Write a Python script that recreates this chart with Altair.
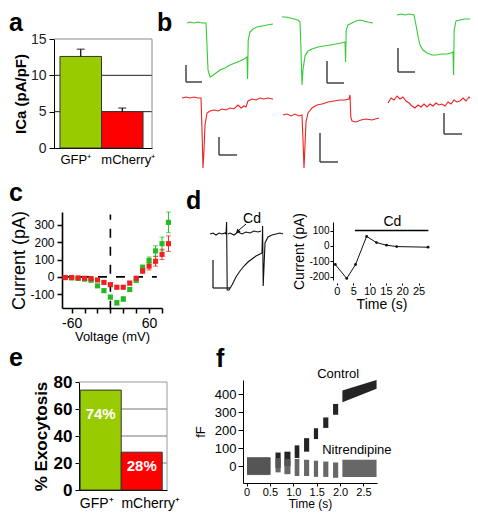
import altair as alt
import pandas as pd

# ---------------------------------------------------------------- data
A_GROUPS = ["GFP⁺", "mCherry⁺"]
A_ICA = [12.6, 5.0]
A_ERR = [1.0, 0.5]
A_GRID = [5, 10]

B_G1_T = [187, 190, 194, 198, 202, 206, 207, 208, 210, 212, 216, 220, 225, 230, 235, 240, 244, 247, 247.6, 248.2, 250, 253, 257, 262, 267, 273]
B_G1_I = [23, 22, 23, 22, 23, 23, 45, 70, 77, 76, 73, 70, 68, 65, 63, 61, 59, 57, 79, 40, 32, 29, 27, 26, 25, 24]
B_R1_T = [182, 186, 190, 194, 198, 201, 202, 203, 204, 205, 207, 210, 214, 218, 222, 226, 230, 234, 238, 241, 244, 246, 248, 252, 256, 260, 264, 268, 273]
B_R1_I = [98, 97, 98, 97, 98, 98, 130, 168, 150, 125, 113, 111, 110, 111, 109, 110, 108, 109, 105, 108, 106, 107, 101, 99, 100, 98, 99, 98, 99]
B_G2_T = [282, 286, 290, 294, 298, 300, 301, 302, 303, 305, 308, 312, 318, 324, 330, 336, 341, 345, 345.6, 346.2, 348, 352, 356, 360, 364, 368, 373]
B_G2_I = [17, 17, 18, 19, 20, 22, 50, 85, 70, 56, 51, 49, 47, 46, 45, 44, 43, 42, 62, 30, 25, 23, 21, 20, 21, 22, 23]
B_R2_T = [283, 287, 291, 295, 299, 302, 303, 304, 305, 306, 308, 312, 317, 322, 328, 334, 340, 345, 349, 350, 350.8, 352, 356, 361, 366, 372, 379]
B_R2_I = [115, 114, 116, 114, 116, 115, 140, 168, 145, 122, 113, 108, 105, 104, 102, 101, 100, 100, 99, 95, 117, 121, 122, 120, 119, 120, 118]
B_G3_T = [397, 401, 405, 409, 414, 416, 418, 420, 423, 427, 432, 437, 442, 447, 451, 453, 453.6, 454.2, 456, 460, 465, 470, 474, 478]
B_G3_I = [15, 14, 15, 14, 15, 25, 36, 45, 50, 53, 55, 55, 54, 54, 53, 52, 75, 30, 21, 20, 19, 19, 18, 18]
B_R3_T = [388, 391, 394, 397, 400, 403, 406, 409, 412, 415, 418, 421, 424, 427, 430, 433, 436, 439, 442, 445, 448, 451, 454, 457, 460, 463, 466, 469, 472, 475, 478]
B_R3_I = [103, 98, 100, 96, 99, 97, 101, 103, 106, 108, 105, 107, 104, 107, 104, 106, 103, 105, 104, 106, 102, 104, 100, 102, 101, 98, 101, 97, 100, 98, 103]
B_SB_X = [186, 219, 327, 320, 398, 444]
B_SB_TOP = [65, 137, 61, 133, 48, 113]
B_SB_BOT = [82, 155, 83, 162, 72, 134]
B_SB_END = [202, 237, 344, 338, 415, 462]

C_VOLT = [-70, -60, -50, -40, -30, -20, -10, 0, 10, 20, 30, 40, 50, 60, 70, 80, 90]
C_GFP = [-4, -6, -9, -13, -20, -52, -80, -117, -150, -128, -73, -20, 54, 95, 150, 192, 315]
C_GFP_ERR = [4, 4, 5, 6, 7, 8, 10, 10, 13, 13, 12, 12, 15, 20, 30, 38, 60]
C_MCH = [-4, -4, -6, -8, -10, -18, -32, -45, -60, -60, -36, -8, 35, 62, 90, 130, 192]
C_MCH_ERR = [4, 4, 4, 5, 6, 6, 8, 8, 8, 8, 10, 10, 15, 22, 28, 30, 45]

D_CTL_T = [210, 213, 216, 219, 222, 225, 226, 226.6, 227.2, 229, 232, 236, 240, 244, 248, 252, 256, 260, 262, 262.6, 263.2, 265, 268, 272, 276, 280, 283]
D_CTL_I = [234, 233, 235, 233, 234, 233, 234, 222, 290, 290, 285, 277, 271, 266, 262, 259, 256, 254, 253, 226, 286, 243, 237, 235, 234, 233, 234]
D_CD_T = [227.8, 230, 234, 238, 242, 246, 250, 254, 258, 261]
D_CD_I = [234, 233, 235, 232, 234, 232, 233, 231, 232, 231]
D_SB = [213, 260, 288, 230]
D_T = [-0.5, 3.0, 5.7, 9.1, 12.1, 15.2, 18.3, 27.9]
D_I = [-120, -210, -120, 62, 22, 5, -4, -8]

E_PCT = [74, 28]
E_LABEL = ["74%", "28%"]
E_LABEL_Y = [56, 18]
E_GRID = [20, 40, 60]

F_T0 = [0.01, 0.62, 0.81, 1.03, 1.23, 1.44, 1.64, 1.85, 2.05]
F_T1 = [0.51, 0.73, 0.94, 1.13, 1.34, 1.53, 1.75, 1.96, 2.78]
F_CTRL_LO0 = [-45, -10, 0, 45, 80, 150, 212, 285, 355]
F_CTRL_HI0 = [45, 75, 80, 115, 155, 210, 270, 345, 420]
F_CTRL_LO1 = [-45, -10, 0, 45, 80, 150, 212, 285, 430]
F_CTRL_HI1 = [45, 75, 80, 115, 155, 210, 270, 345, 478]
F_NIT_LO = [-50, -35, -45, -55, -55, -60, -60, -65, -60]
F_NIT_HI = [50, 45, 40, 40, 35, 30, 25, 20, 35]

# ---------------------------------------------------------------- helpers
W, H, M = 462, 504, 8
FONT = "Liberation Sans"
GREEN_BAR, RED_BAR = "#99cc00", "#ff0000"
GREEN_T, RED_T = "#33cc33", "#ee2222"
DUMMY = pd.DataFrame({"k": [0]})
HYPHEN_LABEL = "(datum.value < 0 ? '-' : '') + abs(datum.value)"


def px(v):
    return v - M


def ax_bottom(page_y, **kw):
    return alt.Axis(orient="bottom", offset=px(page_y) - H, grid=False, **kw)


def ax_left(page_x, **kw):
    return alt.Axis(orient="left", offset=-px(page_x), grid=False, **kw)


def qscale(d0, d1, p0, p1):
    return alt.Scale(domain=[d0, d1], range=[px(p0), px(p1)], nice=False, zero=False)


def shift_labels(left, right):
    return {"condition": {"test": "datum.value == '%s'" % A_GROUPS[0], "value": left}, "value": right}


def frame_layer(xs, ys, grid_vals, top, grid_color, frame_color):
    g = alt.Chart(pd.DataFrame({"g": grid_vals})).mark_rule(color=grid_color, strokeWidth=1).encode(
        x=alt.XDatum(0, scale=xs, axis=None), x2=alt.X2Datum(1),
        y=alt.Y("g:Q", scale=ys, axis=None))
    t = alt.Chart(DUMMY).mark_rule(color=frame_color, strokeWidth=1).encode(
        x=alt.XDatum(0, scale=xs, axis=None), x2=alt.X2Datum(1),
        y=alt.YDatum(top, scale=ys, axis=None))
    r = alt.Chart(DUMMY).mark_rule(color=frame_color, strokeWidth=1).encode(
        x=alt.XDatum(1, scale=xs, axis=None),
        y=alt.YDatum(0, scale=ys, axis=None), y2=alt.Y2Datum(top))
    return alt.layer(g, t, r)


def letter(ch, x, y):
    return alt.Chart(DUMMY).mark_text(text=ch, fontSize=25, fontWeight="bold", align="left",
                                      baseline="alphabetic", font=FONT, color="#000").encode(
        x=alt.value(px(x)), y=alt.value(px(y)))


grp_color = alt.Color("g:N", scale=alt.Scale(domain=A_GROUPS, range=[GREEN_BAR, RED_BAR]), legend=None)

# ---------------------------------------------------------------- panel a
a_xb = alt.Scale(domain=A_GROUPS, range=[px(54), px(152)], paddingInner=0, paddingOuter=0.18, align=0.4)
a_xl = qscale(0, 1, 54, 152)
a_y = qscale(0, 15, 148, 39)
a_xax = ax_bottom(148, title=None, labelAngle=0, ticks=False, tickSize=0, labelFontSize=13,
                  labelPadding=5, domainColor="#000", labelOffset=shift_labels(-5, 6))
a_yax = ax_left(54, values=[0, 5, 10, 15], title="ICa (pA/pF)", titleFontSize=15,
                titleFontWeight="bold", titlePadding=2, labelFontSize=14, tickSize=5,
                labelPadding=3, labelColor="#222")
a_frame = frame_layer(a_xl, a_y, A_GRID, 15, "#222", "#888")
a_df = pd.DataFrame({"g": A_GROUPS, "v": A_ICA, "e": A_ERR})
a_base = alt.Chart(a_df).transform_calculate(top="datum.v + datum.e")
a_bar = a_base.mark_bar(stroke="#333", strokeWidth=1).encode(
    x=alt.X("g:N", sort=A_GROUPS, scale=a_xb, axis=a_xax),
    y=alt.Y("v:Q", scale=a_y, axis=a_yax),
    color=grp_color)
a_eb = a_base.mark_rule(color="#000", strokeWidth=1.2).encode(
    x=alt.X("g:N", sort=A_GROUPS, scale=a_xb, axis=a_xax),
    y=alt.Y("v:Q", scale=a_y, axis=a_yax), y2="top:Q")
a_cap = a_base.mark_tick(color="#000", size=8, thickness=1.2, orient="horizontal").encode(
    x=alt.X("g:N", sort=A_GROUPS, scale=a_xb, axis=a_xax),
    y=alt.Y("top:Q", scale=a_y, axis=a_yax))
panel_a = alt.layer(a_bar, a_eb, a_cap)

# ---------------------------------------------------------------- panel b
def trace_df(name, group, ts, ys):
    return pd.DataFrame({"trace": name, "grp": group, "t": ts, "i": ys, "k": list(range(len(ts)))})


b_df = pd.concat([
    trace_df("g1", A_GROUPS[0], B_G1_T, B_G1_I), trace_df("r1", A_GROUPS[1], B_R1_T, B_R1_I),
    trace_df("g2", A_GROUPS[0], B_G2_T, B_G2_I), trace_df("r2", A_GROUPS[1], B_R2_T, B_R2_I),
    trace_df("g3", A_GROUPS[0], B_G3_T, B_G3_I), trace_df("r3", A_GROUPS[1], B_R3_T, B_R3_I),
])
b_x = qscale(175, 478, 175, 478)
b_y = qscale(0, 175, 0, 175)
b_lines = alt.Chart(b_df).mark_line(strokeWidth=1.1).encode(
    x=alt.X("t:Q", scale=b_x, axis=None), y=alt.Y("i:Q", scale=b_y, axis=None),
    detail="trace:N", order="k:Q",
    color=alt.Color("grp:N", scale=alt.Scale(domain=A_GROUPS, range=[GREEN_T, RED_T]), legend=None))
b_sb = pd.DataFrame({"x": B_SB_X, "top": B_SB_TOP, "bot": B_SB_BOT, "end": B_SB_END})
b_sbv = alt.Chart(b_sb).mark_rule(color="#444", strokeWidth=1.5).encode(
    x=alt.X("x:Q", scale=b_x, axis=None), y=alt.Y("top:Q", scale=b_y, axis=None), y2="bot:Q")
b_sbh = alt.Chart(b_sb).mark_rule(color="#444", strokeWidth=1.5).encode(
    x=alt.X("x:Q", scale=b_x, axis=None), x2="end:Q", y=alt.Y("bot:Q", scale=b_y, axis=None))
panel_b = alt.layer(b_lines, b_sbv, b_sbh)

# ---------------------------------------------------------------- panel c
n = len(C_VOLT)
c_df = pd.DataFrame({"v": C_VOLT * 2, "i": C_GFP + C_MCH, "err": C_GFP_ERR + C_MCH_ERR,
                     "g": [A_GROUPS[0]] * n + [A_GROUPS[1]] * n})
c_x = qscale(-75, 80, 62, 162)
c_y = qscale(-180, 375, 308, 212)
c_xax = ax_bottom(308, values=[-60, -40, -20, 0, 20, 40, 60, 80],
                  labelExpr="datum.value == -60 || datum.value == 60 ? " + HYPHEN_LABEL + " : ''",
                  title="Voltage (mV)", titleFontSize=13, titlePadding=0, labelFontSize=14,
                  tickSize=5, labelPadding=3, domainWidth=1.6, tickWidth=1.5)
c_yax = ax_left(62, values=[-100, 0, 100, 200, 300], labelExpr=HYPHEN_LABEL,
                title="Current (pA)", titleFontSize=18, titlePadding=1, labelFontSize=12,
                tickSize=5, labelPadding=3, domainWidth=1.6, tickWidth=1.5)
c_col = alt.Color("g:N", scale=alt.Scale(domain=A_GROUPS, range=["#22bb22", "#ee2020"]), legend=None)
c_base = alt.Chart(c_df).transform_calculate(lo="datum.i - datum.err", hi="datum.i + datum.err")
c_h = alt.Chart(DUMMY).mark_rule(color="#000", strokeWidth=1.6, strokeDash=[9, 9]).encode(
    x=alt.XDatum(-75, scale=c_x, axis=c_xax), x2=alt.X2Datum(72),
    y=alt.YDatum(0, scale=c_y, axis=c_yax))
c_v = alt.Chart(DUMMY).mark_rule(color="#000", strokeWidth=1.6, strokeDash=[9, 9]).encode(
    x=alt.XDatum(0, scale=c_x, axis=c_xax),
    y=alt.YDatum(-190, scale=c_y, axis=c_yax), y2=alt.Y2Datum(360))
c_eb = c_base.mark_rule(strokeWidth=1).encode(
    x=alt.X("v:Q", scale=c_x, axis=c_xax), y=alt.Y("lo:Q", scale=c_y, axis=c_yax), y2="hi:Q",
    color=c_col)
c_cap1 = c_base.mark_tick(size=5, thickness=1, orient="horizontal").encode(
    x=alt.X("v:Q", scale=c_x, axis=c_xax), y=alt.Y("lo:Q", scale=c_y, axis=c_yax), color=c_col)
c_cap2 = c_base.mark_tick(size=5, thickness=1, orient="horizontal").encode(
    x=alt.X("v:Q", scale=c_x, axis=c_xax), y=alt.Y("hi:Q", scale=c_y, axis=c_yax), color=c_col)
c_pts = c_base.mark_point(filled=True, size=26, opacity=1, shape="square").encode(
    x=alt.X("v:Q", scale=c_x, axis=c_xax), y=alt.Y("i:Q", scale=c_y, axis=c_yax), color=c_col)
panel_c = alt.layer(c_h, c_v, c_eb, c_cap1, c_cap2, c_pts)

# ---------------------------------------------------------------- panel d left
dl_df = pd.concat([trace_df("ctl", "ctl", D_CTL_T, D_CTL_I), trace_df("cd", "cd", D_CD_T, D_CD_I)])
dl_x = qscale(205, 290, 205, 290)
dl_y = qscale(210, 300, 210, 300)
dl_lines = alt.Chart(dl_df).mark_line(color="#111", strokeWidth=1.1).encode(
    x=alt.X("t:Q", scale=dl_x, axis=None), y=alt.Y("i:Q", scale=dl_y, axis=None),
    detail="trace:N", order="k:Q")
dl_sbv = alt.Chart(DUMMY).mark_rule(color="#222", strokeWidth=1.3).encode(
    x=alt.XDatum(D_SB[0], scale=dl_x, axis=None), y=alt.YDatum(D_SB[1], scale=dl_y, axis=None),
    y2=alt.Y2Datum(D_SB[2]))
dl_sbh = alt.Chart(DUMMY).mark_rule(color="#222", strokeWidth=1.3).encode(
    x=alt.XDatum(D_SB[0], scale=dl_x, axis=None), x2=alt.X2Datum(D_SB[3]),
    y=alt.YDatum(D_SB[2], scale=dl_y, axis=None))
dl_arrow = alt.Chart(DUMMY).mark_rule(color="#111", strokeWidth=1).encode(
    x=alt.XDatum(246, scale=dl_x, axis=None), x2=alt.X2Datum(239),
    y=alt.YDatum(224, scale=dl_y, axis=None), y2=alt.Y2Datum(230))
dl_head = alt.Chart(DUMMY).mark_point(shape="triangle", angle=225, filled=True, size=22,
                                      color="#111", opacity=1).encode(
    x=alt.XDatum(238, scale=dl_x, axis=None), y=alt.YDatum(231, scale=dl_y, axis=None))
dl_txt = alt.Chart(DUMMY).mark_text(text="Cd", fontSize=14, font=FONT, color="#000").encode(
    x=alt.XDatum(252, scale=dl_x, axis=None), y=alt.YDatum(219, scale=dl_y, axis=None))
panel_dl = alt.layer(dl_lines, dl_sbv, dl_sbh, dl_arrow, dl_head, dl_txt)

# ---------------------------------------------------------------- panel d right
d_df = pd.DataFrame({"t": D_T, "i": D_I})
d_x = qscale(-1.2, 28.5, 333, 430)
d_y = qscale(-220, 155, 280, 222)
d_xax = ax_bottom(283, values=[0, 5, 10, 15, 20, 25], domain=False, tickSize=2,
                  labelFontSize=11, labelPadding=0, title="Time (s)", titleFontSize=14,
                  titlePadding=1)
d_yax = ax_left(333, values=[-200, -100, 0, 100], labelExpr=HYPHEN_LABEL, tickSize=3,
                labelFontSize=10, labelPadding=1, title="Current (pA)", titleFontSize=14,
                titlePadding=2)
d_line = alt.Chart(d_df).mark_line(color="#111", strokeWidth=1,
                                   point=alt.OverlayMarkDef(color="#111", size=8, filled=True)).encode(
    x=alt.X("t:Q", scale=d_x, axis=d_xax), y=alt.Y("i:Q", scale=d_y, axis=d_yax))
d_cd = alt.Chart(DUMMY).mark_rule(color="#000", strokeWidth=1.4).encode(
    x=alt.XDatum(5.5, scale=d_x, axis=d_xax), x2=alt.X2Datum(28),
    y=alt.YDatum(100, scale=d_y, axis=d_yax))
d_cdt = alt.Chart(DUMMY).mark_text(text="Cd", fontSize=14, font=FONT, color="#000", baseline="bottom").encode(
    x=alt.XDatum(17, scale=d_x, axis=d_xax), y=alt.YDatum(112, scale=d_y, axis=d_yax))
panel_dr = alt.layer(d_line, d_cd, d_cdt)

# ---------------------------------------------------------------- panel e
e_xb = alt.Scale(domain=A_GROUPS, range=[px(79), px(167)], paddingInner=0, paddingOuter=0.073, align=0.2)
e_xl = qscale(0, 1, 79, 167)
e_y = qscale(0, 80, 490, 382)
e_xax = ax_bottom(490, title=None, labelAngle=0, ticks=False, tickSize=0, labelFontSize=14,
                  labelPadding=6, domainColor="#000", labelOffset=shift_labels(-4, 9))
e_yax = ax_left(79, values=[0, 20, 40, 60, 80], title="% Exocytosis", titleFontSize=17,
                titleFontWeight="bold", titlePadding=3, labelFontSize=17,
                labelFontWeight="bold", tickSize=4, labelPadding=3)
e_frame = frame_layer(e_xl, e_y, E_GRID, 80, "#777", "#999")
e_df = pd.DataFrame({"g": A_GROUPS, "v": E_PCT, "lab": E_LABEL, "ty": E_LABEL_Y})
e_bar = alt.Chart(e_df).mark_bar(stroke="#333", strokeWidth=1).encode(
    x=alt.X("g:N", sort=A_GROUPS, scale=e_xb, axis=e_xax),
    y=alt.Y("v:Q", scale=e_y, axis=e_yax),
    color=grp_color)
e_txt = alt.Chart(e_df).mark_text(fontSize=15, fontWeight="bold", color="#fff", font=FONT).encode(
    x=alt.X("g:N", sort=A_GROUPS, scale=e_xb, axis=e_xax),
    y=alt.Y("ty:Q", scale=e_y, axis=e_yax), text="lab:N")
panel_e = alt.layer(e_bar, e_txt)

# ---------------------------------------------------------------- panel f
def cluster_rows(series, lo0, hi0, lo1, hi1):
    rows = []
    for j in range(len(F_T0)):
        rows.append({"s": series, "c": j, "t": F_T0[j], "lo": lo0[j], "hi": hi0[j]})
        rows.append({"s": series, "c": j, "t": F_T1[j], "lo": lo1[j], "hi": hi1[j]})
    return pd.DataFrame(rows)


f_ctrl = cluster_rows("Control", F_CTRL_LO0, F_CTRL_HI0, F_CTRL_LO1, F_CTRL_HI1)
f_nit = cluster_rows("Nitrendipine", F_NIT_LO, F_NIT_HI, F_NIT_LO, F_NIT_HI)
f_x = qscale(-0.075, 2.79, 243, 377)
f_y = qscale(-94, 478, 483, 380)
f_xax = ax_bottom(483, values=[0, 0.5, 1, 1.5, 2, 2.5],
                  labelExpr="datum.value == 0 ? '0' : format(datum.value, '.1f')",
                  tickSize=3, labelFontSize=11, labelPadding=0, title="Time (s)",
                  titleFontSize=12, titlePadding=1)
f_yax = ax_left(243, values=[0, 100, 200, 300, 400], tickSize=5, labelFontSize=13,
                labelPadding=2, title="fF", titleFontSize=13, titlePadding=7)
f_a1 = alt.Chart(f_ctrl).mark_area(color="#111", opacity=0.92).encode(
    x=alt.X("t:Q", scale=f_x, axis=f_xax), y=alt.Y("lo:Q", scale=f_y, axis=f_yax),
    y2="hi:Q", detail="c:N")
f_a2 = alt.Chart(f_nit).mark_area(color="#5a5a5a", opacity=0.92).encode(
    x=alt.X("t:Q", scale=f_x, axis=f_xax), y=alt.Y("lo:Q", scale=f_y, axis=f_yax), y2="hi:Q",
    detail="c:N")
f_t1 = alt.Chart(DUMMY).mark_text(text="Control", fontSize=13, font=FONT, color="#000").encode(
    x=alt.XDatum(1.96, scale=f_x, axis=f_xax), y=alt.YDatum(511, scale=f_y, axis=f_yax))
f_t2 = alt.Chart(DUMMY).mark_text(text="Nitrendipine", fontSize=13, font=FONT, color="#000").encode(
    x=alt.XDatum(2.36, scale=f_x, axis=f_xax), y=alt.YDatum(89, scale=f_y, axis=f_yax))
panel_f = alt.layer(f_a1, f_a2, f_t1, f_t2)

# ---------------------------------------------------------------- assemble
chart = alt.layer(
    a_frame, panel_a, panel_b, panel_c, panel_dl, panel_dr, e_frame, panel_e, panel_f,
    letter("a", 9, 31), letter("b", 157, 31), letter("c", 9, 201), letter("d", 186, 209),
    letter("e", 9, 366), letter("f", 216, 367),
).resolve_scale(
    x="independent", y="independent", color="independent"
).resolve_axis(
    x="independent", y="independent"
).properties(
    width=W, height=H, autosize="none", padding=0
).configure_view(
    stroke=None
).configure_axis(
    labelFont=FONT, titleFont=FONT, domainColor="#000", tickColor="#000", labelColor="#000",
    titleColor="#000", titleFontWeight="normal", grid=False
).configure_text(font=FONT)

chart.save("out.html", embed_options={"renderer": "svg", "actions": False})
